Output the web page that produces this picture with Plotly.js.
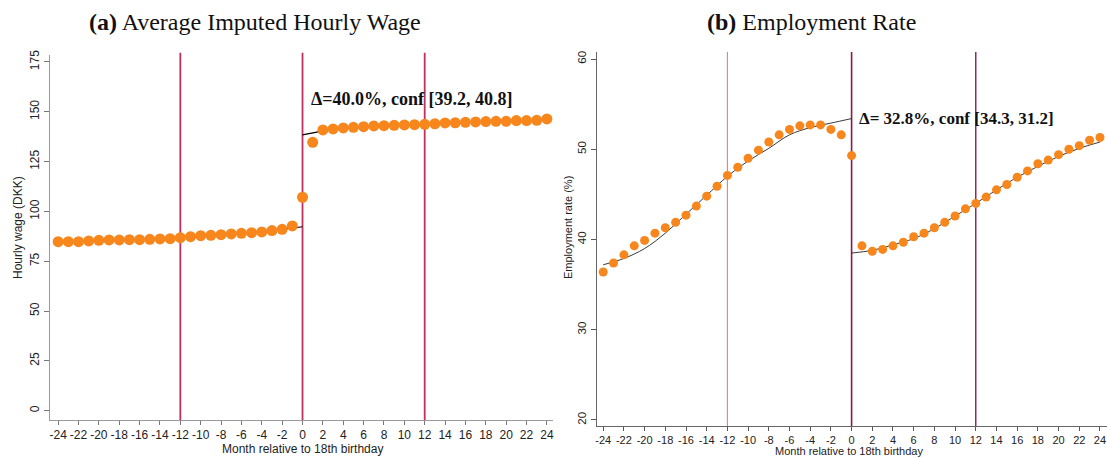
<!DOCTYPE html>
<html>
<head>
<meta charset="utf-8">
<script src="https://cdn.plot.ly/plotly-3.0.1.min.js"></script>
<style>html,body{margin:0;padding:0;background:#fff;}#chart{width:1107px;height:457px;}</style>
</head>
<body>
<div id="chart"></div>
<script>
// ---- data ----
const months = [-24,-23,-22,-21,-20,-19,-18,-17,-16,-15,-14,-13,-12,-11,-10,-9,-8,-7,-6,-5,-4,-3,-2,-1,0,1,2,3,4,5,6,7,8,9,10,11,12,13,14,15,16,17,18,19,20,21,22,23,24];
const wage = [84.8,84.8,84.8,85.2,85.5,85.7,85.7,85.8,85.8,86.0,86.2,86.3,86.8,87.3,87.8,88.0,88.3,88.7,89.0,89.3,89.7,90.4,91.0,92.7,107.1,134.7,140.9,141.4,141.9,142.2,142.5,142.9,143.0,143.2,143.4,143.5,143.7,144.0,144.4,144.5,144.7,144.9,145.1,145.2,145.2,145.6,145.6,145.7,146.4];
const employment = [36.4,37.4,38.3,39.3,39.9,40.7,41.3,41.9,42.7,43.7,44.8,45.9,47.1,48.0,49.0,49.9,50.8,51.6,52.2,52.6,52.7,52.7,52.2,51.6,49.3,39.3,38.7,38.9,39.3,39.7,40.3,40.7,41.3,41.9,42.6,43.4,44.0,44.7,45.5,46.1,46.9,47.6,48.4,48.8,49.4,50.0,50.4,51.0,51.3];
const wageFitPreX = [-24,-18,-12,-6,0];
const wageFitPreY = [84.6,85.5,86.8,88.9,92.3];
const wageFitPostX = [0,2,4,8,12,16,20,24];
const wageFitPostY = [138.4,140.3,141.5,142.8,143.7,144.6,145.3,146.0];
const empFitPreX = [-24,-22,-20,-18,-16,-14,-12,-10,-8,-6,-4,-2,0];
const empFitPreY = [37.2,37.9,39.0,40.7,42.8,44.9,47.0,48.7,50.1,51.6,52.4,52.9,53.4];
const empFitPostX = [0,2,4,6,8,10,12,14,16,18,20,22,24];
const empFitPostY = [38.5,38.8,39.4,40.1,41.2,42.6,44.0,45.5,46.9,48.1,49.2,50.1,50.8];
const cutoffs = [-12,0,12];
const xTicks = [-24,-22,-20,-18,-16,-14,-12,-10,-8,-6,-4,-2,0,2,4,6,8,10,12,14,16,18,20,22,24];
const wageTicks = [0,25,50,75,100,125,150,175];
const empTicks = [20,30,40,50,60];
const titleA = "<b>(a)</b> Average Imputed Hourly Wage";
const titleB = "<b>(b)</b> Employment Rate";
const noteA = "<b>Δ=40.0%, conf [39.2, 40.8]</b>";
const noteB = "<b>Δ= 32.8%, conf [34.3, 31.2]</b>";
const xLabel = "Month relative to 18th birthday";
const yLabelA = "Hourly wage (DKK)";
const yLabelB = "Employment rate (%)";

// ---- styling ----
const W = 1107, H = 457;
const px = v => v / W, py = v => 1 - v / H;
const orange = "#f7861c";
const sans = "Liberation Sans, Arial, sans-serif";
const serif = "Liberation Serif, Times New Roman, serif";

const traces = [
  {x: wageFitPreX, y: wageFitPreY, xaxis:'x', yaxis:'y', mode:'lines', line:{color:'#000', width:1.2, shape:'spline'}, hoverinfo:'skip'},
  {x: wageFitPostX, y: wageFitPostY, xaxis:'x', yaxis:'y', mode:'lines', line:{color:'#000', width:1.2, shape:'spline'}, hoverinfo:'skip'},
  {x: months, y: wage, xaxis:'x', yaxis:'y', mode:'markers', marker:{color:orange, size:11}},
  {x: empFitPreX, y: empFitPreY, xaxis:'x2', yaxis:'y2', mode:'lines', line:{color:'#222', width:0.9, shape:'spline'}, hoverinfo:'skip'},
  {x: empFitPostX, y: empFitPostY, xaxis:'x2', yaxis:'y2', mode:'lines', line:{color:'#222', width:0.9, shape:'spline'}, hoverinfo:'skip'},
  {x: months, y: employment, xaxis:'x2', yaxis:'y2', mode:'markers', marker:{color:orange, size:9}}
];

const leftLineColors = ['#c2305e','#c2305e','#c2305e'];
const rightLineColors = ['#d9809f','#8a1a4c','#7f1f55'];
const rightLineWidths = [1.1, 1.6, 1.4];

const shapes = [];
cutoffs.forEach((c,i)=>{
  shapes.push({type:'line', xref:'x', yref:'y domain', x0:c, x1:c, y0:0, y1:1.006, line:{color:leftLineColors[i], width:1.8}, layer:'below'});
  shapes.push({type:'line', xref:'x2', yref:'y2 domain', x0:c, x1:c, y0:0, y1:1, line:{color:rightLineColors[i], width:rightLineWidths[i]}, layer:'below'});
});

const axCommon = {showgrid:false, zeroline:false, showline:true, ticks:'outside', ticklen:5, tickwidth:1, fixedrange:true};

const layout = {
  width: W, height: H,
  margin:{l:0,r:0,t:0,b:0},
  paper_bgcolor:'#fff', plot_bgcolor:'#fff',
  showlegend:false,
  xaxis: Object.assign({}, axCommon, {domain:[px(50), px(553)], range:[-24.8,24.6], tickvals:xTicks, ticktext:xTicks.map(String), linecolor:'#999', tickcolor:'#777', ticklen:4, tickfont:{family:sans, size:12, color:'#222'}, anchor:'y'}),
  yaxis: Object.assign({}, axCommon, {domain:[1-420/H, 1-55/H], range:[-4.7,178.5], tickvals:wageTicks, ticktext:wageTicks.map(String), tickangle:-90, linecolor:'#999', tickcolor:'#777', tickfont:{family:sans, size:12, color:'#222'}, anchor:'x'}),
  xaxis2: Object.assign({}, axCommon, {domain:[px(597), 1], range:[-24.6,24.68], tickvals:xTicks, ticktext:xTicks.map(String), linecolor:'#666', tickcolor:'#555', ticklen:4, tickfont:{family:sans, size:11, color:'#222'}, anchor:'y2'}),
  yaxis2: Object.assign({}, axCommon, {domain:[1-426/H, 1-52/H], range:[19.33,60.78], tickvals:empTicks, ticktext:empTicks.map(String), tickangle:-90, linecolor:'#666', tickcolor:'#555', tickfont:{family:sans, size:11.5, color:'#222'}, anchor:'x2'}),
  shapes: shapes,
  annotations: [
    {text:titleA, xref:'paper', yref:'paper', x:px(255), y:py(22), xanchor:'center', yanchor:'middle', showarrow:false, font:{family:serif, size:24, color:'#111'}},
    {text:titleB, xref:'paper', yref:'paper', x:px(811), y:py(22), xanchor:'center', yanchor:'middle', showarrow:false, font:{family:serif, size:24, color:'#111'}},
    {text:noteA, xref:'paper', yref:'paper', x:px(309), y:py(99), xanchor:'left', yanchor:'middle', showarrow:false, font:{family:serif, size:18, color:'#111'}},
    {text:noteB, xref:'paper', yref:'paper', x:px(857), y:py(118), xanchor:'left', yanchor:'middle', showarrow:false, font:{family:serif, size:17, color:'#111'}},
    {text:xLabel, xref:'paper', yref:'paper', x:px(302), y:py(448.5), xanchor:'center', yanchor:'middle', showarrow:false, font:{family:sans, size:12, color:'#222'}},
    {text:xLabel, xref:'paper', yref:'paper', x:px(849), y:py(450.5), xanchor:'center', yanchor:'middle', showarrow:false, font:{family:sans, size:11, color:'#222'}},
    {text:yLabelA, xref:'paper', yref:'paper', x:px(18), y:py(228), xanchor:'center', yanchor:'middle', textangle:-90, showarrow:false, font:{family:sans, size:12, color:'#222'}},
    {text:yLabelB, xref:'paper', yref:'paper', x:px(568), y:py(228), xanchor:'center', yanchor:'middle', textangle:-90, showarrow:false, font:{family:sans, size:11, color:'#222'}}
  ]
};

Plotly.newPlot('chart', traces, layout, {staticPlot:true, displayModeBar:false});
</script>
</body>
</html>
